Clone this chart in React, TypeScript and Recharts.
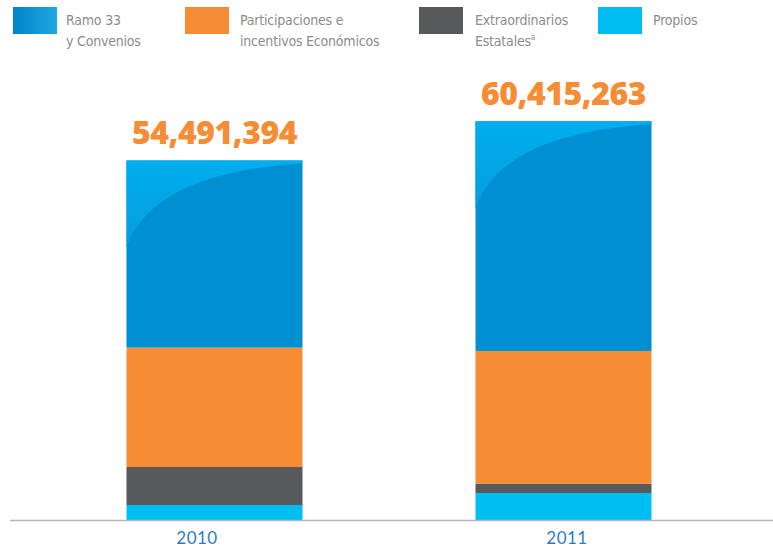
import React from 'react';
import { BarChart, Bar, XAxis, YAxis, LabelList } from 'recharts';

const categories = ['2010', '2011'];
const ramo33 = [28331000, 34755000];
const participaciones = [18060000, 20090000];
const extraordinarios = [5750000, 1410000];
const propios = [2350000, 4160000];
const totals = [54491394, 60415263];

// small nudge of the year labels, as in the original artwork
const tickShift = [-17, 4];

const chartData = categories.map((year, i) => ({
  year,
  ramo33: ramo33[i],
  participaciones: participaciones[i],
  extraordinarios: extraordinarios[i],
  propios: propios[i],
  total: totals[i],
}));

const legendItems = [
  { lines: ['Ramo 33', 'y Convenios'], fill: 'linear-gradient(90deg, #0083ca, #1ea8e2)', box: 13, text: 66 },
  { lines: ['Participaciones e', 'incentivos Económicos'], fill: '#f68d35', box: 185, text: 240 },
  { lines: ['Extraordinarios', 'Estatales'], sup: 'a', fill: '#58595b', box: 419, text: 475 },
  { lines: ['Propios'], fill: '#00bdf2', box: 598, text: 653 },
];

const LegendBlock = () => (
  <div style={{ position: 'absolute', left: 0, top: 0, width: 773, height: 55 }}>
    {legendItems.map((item) => (
      <React.Fragment key={item.lines[0]}>
        <div
          style={{
            position: 'absolute',
            left: item.box,
            top: 7,
            width: 44,
            height: 27,
            background: item.fill,
          }}
        />
        <div
          style={{
            position: 'absolute',
            left: item.text,
            top: 10,
            fontFamily: '"Liberation Sans Narrow", "DejaVu Sans Condensed", sans-serif',
            fontSize: 14,
            letterSpacing: -0.2,
            lineHeight: '21px',
            color: '#8c8c8c',
            whiteSpace: 'nowrap',
          }}
        >
          {item.lines.map((l, i) => (
            <div key={l}>
              {l}
              {item.sup && i === item.lines.length - 1 ? (
                <sup style={{ fontSize: 8, verticalAlign: 'top', lineHeight: '14px' }}>{item.sup}</sup>
              ) : null}
            </div>
          ))}
        </div>
      </React.Fragment>
    ))}
  </div>
);

const RamoShape = (props: any) => {
  const { x, y, width, height } = props;
  if (!height) return null;
  return (
    <g>
      <rect x={x} y={y} width={width} height={height} fill="#008fd0" />
      <path
        d={`M${x},${y} H${x + width} V${y + 3} Q${x + width * 0.15},${y + 12} ${x},${y + 87} Z`}
        fill="url(#ramoLight)"
      />
    </g>
  );
};

const YearTick = (props: any) => {
  const { x, y, payload, index } = props;
  return (
    <text
      x={x + (tickShift[index] || 0)}
      y={y}
      dy={23.5}
      textAnchor="middle"
      fill="#2f7cc0"
      fontSize={17}
      fontFamily="Lato, sans-serif"
      letterSpacing={0.5}
    >
      {payload.value}
    </text>
  );
};

const App: React.FC = () => {
  return (
    <div style={{ position: 'absolute', left: 0, top: 0, width: 773, height: 549, background: '#fff' }}>
      <BarChart
        width={773}
        height={549}
        data={chartData}
        margin={{ top: 58, right: 0, left: 10, bottom: 0 }}
      >
        <defs>
          <linearGradient id="ramoLight" x1="0" y1="0" x2="0" y2="1">
            <stop offset="0%" stopColor="#00aeef" />
            <stop offset="100%" stopColor="#069ddd" />
          </linearGradient>
        </defs>
        <XAxis
          dataKey="year"
          height={28.5}
          padding={{ left: 29.5, right: 35.5 }}
          axisLine={{ stroke: '#b4b4bc', strokeWidth: 1.5 }}
          tickLine={false}
          tickSize={0}
          tickMargin={0}
          tick={<YearTick />}
        />
        <YAxis hide domain={[0, 70000000]} />
        <Bar dataKey="propios" stackId="a" fill="#00bdf2" barSize={176} isAnimationActive={false} />
        <Bar dataKey="extraordinarios" stackId="a" fill="#58595b" barSize={176} isAnimationActive={false} />
        <Bar dataKey="participaciones" stackId="a" fill="#f68d35" barSize={176} isAnimationActive={false} />
        <Bar dataKey="ramo33" stackId="a" barSize={176} shape={<RamoShape />} isAnimationActive={false}>
          <LabelList
            dataKey="total"
            position="top"
            offset={16}
            formatter={(v: any) => Number(v).toLocaleString('en-US')}
            fill="#f68d35"
            fontSize={32}
            fontWeight={800}
            fontFamily="'Open Sans', sans-serif"
            letterSpacing={-0.5}
          />
        </Bar>
      </BarChart>
      <LegendBlock />
    </div>
  );
};

export default App;
